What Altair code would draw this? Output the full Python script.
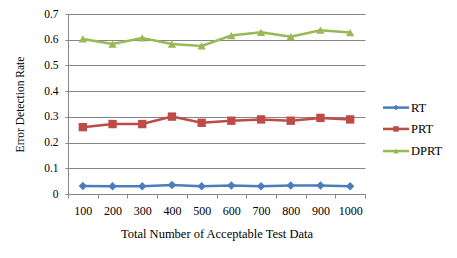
import altair as alt
import pandas as pd

sizes = ["100", "200", "300", "400", "500", "600", "700", "800", "900", "1000"]
rt = [0.031, 0.030, 0.030, 0.035, 0.030, 0.033, 0.030, 0.033, 0.033, 0.030]
prt = [0.260, 0.272, 0.272, 0.301, 0.277, 0.285, 0.290, 0.285, 0.296, 0.290]
dprt = [0.603, 0.583, 0.607, 0.583, 0.576, 0.616, 0.629, 0.612, 0.637, 0.628]
series = ["RT", "PRT", "DPRT"]
colors = ["#4a7ebb", "#be4b48", "#98b954"]
shapes = ["diamond", "square", "triangle-up"]
y_ticks = [0, 0.1, 0.2, 0.3, 0.4, 0.5, 0.6, 0.7]

# legend layout (legend-scale units, relative to plot-area left edge)
legend_y = [0.336, 0.253, 0.167]
legend_x0 = [315, 315, 315]
legend_x1 = [341, 341, 341]
legend_xm = [328, 328, 328]
legend_tx = [343, 343, 343]

FONT = "Liberation Serif"
W, H = 297, 180

rows = []
for s, vals in zip(series, [rt, prt, dprt]):
    for x, v in zip(sizes, vals):
        rows.append({"size": x, "series": s, "value": v})
df = pd.DataFrame(rows)

leg = pd.DataFrame({"series": series, "ly": legend_y, "lx0": legend_x0,
                    "lx1": legend_x1, "lxm": legend_xm, "ltx": legend_tx})

color = alt.Color("series:N", scale=alt.Scale(domain=series, range=colors), legend=None)
shape = alt.Shape("series:N", scale=alt.Scale(domain=series, range=shapes), legend=None)

xenc = alt.X("size:N", sort=sizes,
             scale=alt.Scale(type="band", domain=sizes, paddingInner=0, paddingOuter=0),
             axis=alt.Axis(title="Total Number of Acceptable Test Data", labelAngle=0,
                           tickBand="extent", tickSize=4, labelPadding=7,
                           titlePadding=11, grid=False, domainColor="#868686",
                           tickColor="#868686", labelFontSize=12, titleFontSize=12.5))
yenc = alt.Y("value:Q", scale=alt.Scale(domain=[0, 0.7], nice=False),
             axis=alt.Axis(title="Error Detection Rate", values=y_ticks,
                           labelExpr="datum.value == 0 ? '0' : format(datum.value, '.1f')",
                           tickSize=3, labelPadding=7, titlePadding=18, grid=True,
                           gridColor="#868686", domainColor="#868686", tickColor="#868686",
                           labelFontSize=11.5, titleFontSize=11.5))

lines = alt.Chart(df).mark_line(strokeWidth=2.5).encode(x=xenc, y=yenc, color=color,
                                                         detail="series:N")
pts = alt.Chart(df).mark_point(filled=True, opacity=1, size=70).encode(
    x=xenc, y=yenc, color=color, shape=shape)
main = alt.layer(lines, pts)

lx = alt.Scale(domain=[0, W], range=[0, W])
ly = alt.Scale(domain=[0, 0.7], nice=False)
lrule = alt.Chart(leg).mark_rule(strokeWidth=2.5).encode(
    x=alt.X("lx0:Q", scale=lx, axis=None), x2="lx1:Q",
    y=alt.Y("ly:Q", scale=ly, axis=None), color=color)
lpts = alt.Chart(leg).mark_point(filled=True, opacity=1, size=30).encode(
    x=alt.X("lxm:Q", scale=lx, axis=None), y=alt.Y("ly:Q", scale=ly, axis=None),
    color=color, shape=shape)
ltext = alt.Chart(leg).mark_text(align="left", baseline="middle", font=FONT,
                                 fontSize=12.5, color="black").encode(
    x=alt.X("ltx:Q", scale=lx, axis=None), y=alt.Y("ly:Q", scale=ly, axis=None),
    text="series:N")
legend = alt.layer(lrule, lpts, ltext)

chart = alt.layer(main, legend).resolve_scale(x="independent", y="independent").properties(
    width=W, height=H,
    autosize=alt.AutoSizeParams(type="none"),
    padding={"left": 60, "top": 6, "right": 84, "bottom": 56},
).configure_view(stroke=None).configure_axis(
    labelFont=FONT, titleFont=FONT,
    labelColor="black", titleColor="black", titleFontWeight="normal"
)

chart.save("out.html", embed_options={"renderer": "svg", "actions": False})
